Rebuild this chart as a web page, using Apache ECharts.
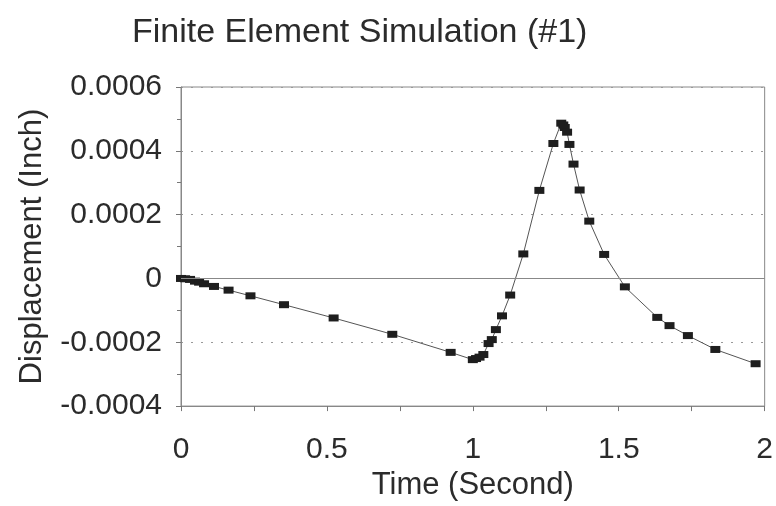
<!DOCTYPE html>
<html>
<head>
<meta charset="utf-8">
<script src="https://cdn.jsdelivr.net/npm/echarts@6/dist/echarts.min.js"></script>
<style>
html,body{margin:0;padding:0;background:#fff;}
#chart{width:776px;height:506px;}
</style>
</head>
<body>
<div id="chart"></div>
<script>
const titleText = 'Finite Element Simulation (#1)';
const xName = 'Time (Second)';
const yName = 'Displacement (Inch)';
const xTickLabels = ['0', '0.5', '1', '1.5', '2'];
const yTickLabels = ['-0.0004', '-0.0002', '0', '0.0002', '0.0004', '0.0006'];

const timeValues = [
  0, 0.014, 0.031, 0.048, 0.062, 0.079, 0.113, 0.163, 0.238, 0.353,
  0.523, 0.724, 0.924, 1.0, 1.011, 1.023, 1.036, 1.054, 1.065, 1.079,
  1.1, 1.128, 1.173, 1.228, 1.276, 1.303, 1.310, 1.315, 1.323, 1.331,
  1.345, 1.366, 1.399, 1.45, 1.521, 1.632, 1.674, 1.737, 1.831, 1.969
];
const displacementValues = [
  0, -0.000001, -0.000003, -0.0000084, -0.0000116, -0.0000166, -0.000025, -0.0000366, -0.0000544, -0.0000822,
  -0.0001238, -0.000175, -0.0002316, -0.0002544, -0.000251, -0.0002466, -0.0002384, -0.000204, -0.0001916, -0.0001603,
  -0.0001172, -0.000052, 0.0000769, 0.000276, 0.000423, 0.0004866, 0.000481, 0.0004731, 0.0004584, 0.00042,
  0.0003584, 0.0002772, 0.0001797, 0.0000753, -0.0000263, -0.000122, -0.0001478, -0.000179, -0.0002225, -0.0002672
];

const seriesData = timeValues.map((t, i) => [t, displacementValues[i]]);
const font = '"Liberation Sans", Arial, Helvetica, sans-serif';
const textColor = '#2b2b2b';

const chart = echarts.init(document.getElementById('chart'), null, {renderer: 'canvas'});
chart.setOption({
  animation: false,
  backgroundColor: '#ffffff',
  title: {
    text: titleText,
    left: 127,
    top: 10,
    textStyle: {fontFamily: font, fontSize: 34, fontWeight: 'normal', color: textColor, lineHeight: 36}
  },
  grid: {
    left: 181, right: 7, top: 87, bottom: 99,
    show: true, borderColor: '#888', borderWidth: 1, backgroundColor: 'transparent'
  },
  xAxis: {
    type: 'value',
    min: 0, max: 2, interval: 0.5,
    name: xName,
    nameLocation: 'middle',
    nameGap: 61,
    nameTextStyle: {fontFamily: font, fontSize: 31, color: textColor, lineHeight: 31},
    axisLine: {show: true, onZero: false, lineStyle: {color: '#888', width: 1}},
    axisTick: {show: true, length: 5, lineStyle: {color: '#777'}},
    minorTick: {show: true, splitNumber: 2, length: 5, lineStyle: {color: '#777'}},
    splitLine: {show: false},
    axisLabel: {
      margin: 29,
      fontFamily: font, fontSize: 30, color: textColor, lineHeight: 30,
      formatter: v => xTickLabels[Math.round(v / 0.5)]
    }
  },
  yAxis: {
    type: 'value',
    min: -0.0004, max: 0.0006, interval: 0.0002,
    name: yName,
    nameLocation: 'middle',
    nameGap: 133,
    nameTextStyle: {fontFamily: font, fontSize: 31, color: textColor, lineHeight: 31},
    axisLine: {show: true, lineStyle: {color: '#888', width: 1}},
    axisTick: {show: true, length: 5, lineStyle: {color: '#777'}},
    minorTick: {show: true, splitNumber: 2, length: 4, lineStyle: {color: '#777'}},
    splitLine: {show: true, lineStyle: {color: '#999', width: 1, type: [2, 8]}},
    axisLabel: {
      margin: 19,
      fontFamily: font, fontSize: 30, color: textColor, lineHeight: 30,
      formatter: v => yTickLabels[Math.round((v + 0.0004) / 0.0002)]
    }
  },
  series: [{
    type: 'line',
    data: seriesData,
    symbol: 'rect',
    symbolSize: [10, 7],
    showSymbol: true,
    itemStyle: {color: '#1e1e1e'},
    lineStyle: {color: '#555', width: 1},
    markLine: {
      silent: true,
      symbol: 'none',
      label: {show: false},
      lineStyle: {color: '#888', width: 1, type: 'solid'},
      data: [{yAxis: 0}]
    },
    z: 3
  }]
});
</script>
</body>
</html>
